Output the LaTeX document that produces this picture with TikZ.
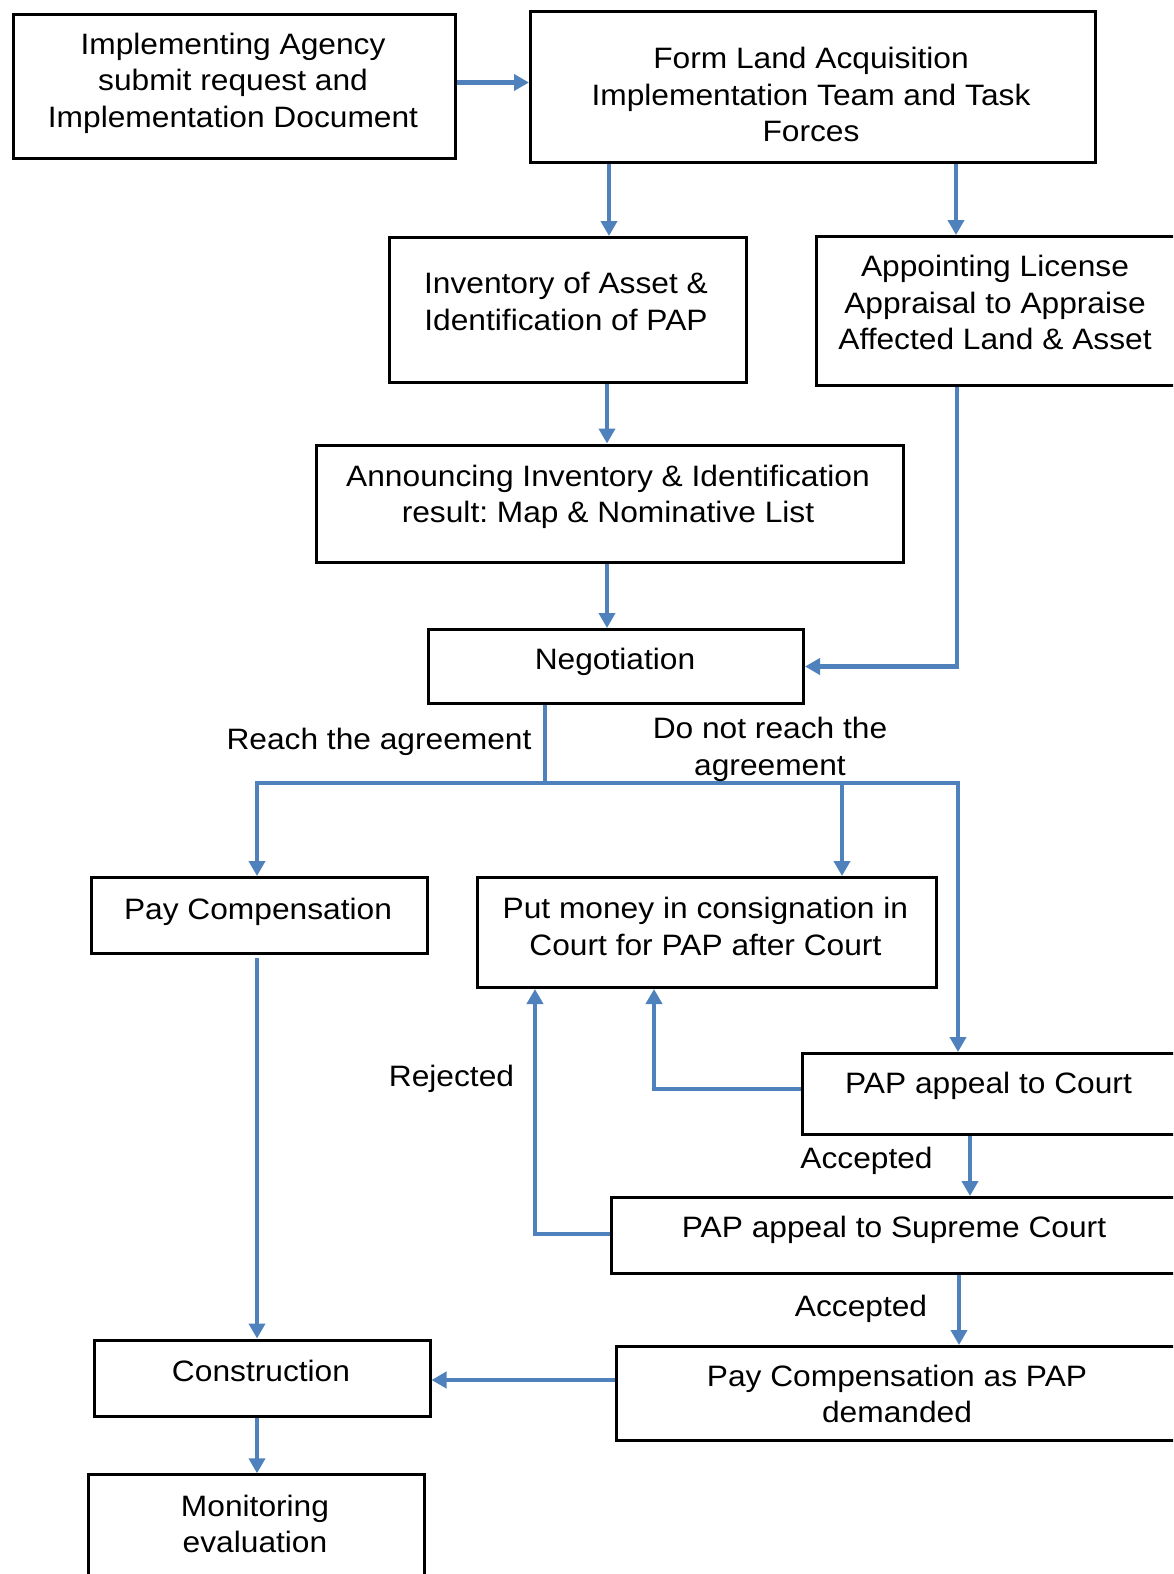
\documentclass[tikz,border=0pt]{standalone}
\usepackage{fontspec}
\setmainfont{Liberation Sans}[FakeStretch=1.075]
\usetikzlibrary{arrows.meta}
\definecolor{linkblue}{RGB}{79,129,189}
\frenchspacing
\begin{document}
\begin{tikzpicture}[x=1pt,y=-1pt,
  box/.style={draw=black, line width=3pt, anchor=north west, inner sep=0pt, fill=white},
  txt/.style={anchor=north, align=center, inner sep=0pt, yshift=24.5pt,
    font=\fontsize{29.5}{36.5}\selectfont, execute at begin node=\strut},
  txtm/.style={txt, yshift=-4pt},
  plain/.style={draw=linkblue, line width=4.8pt},
  link/.style={plain, -{Triangle[length=15pt,width=16pt]}}]

% canvas
\useasboundingbox (0,0) rectangle (1173,1574);
\fill[white] (0,0) rectangle (1173,1574);
\clip (0,0) rectangle (1173,1574);

% process boxes
\node[box, minimum width=442pt, minimum height=144pt]   (agency)    at (12,13) {};
\node[box, minimum width=565pt, minimum height=150.5pt] (team)      at (529,10) {};
\node[box, minimum width=357pt, minimum height=145pt]   (inventory) at (388,236) {};
\node[box, minimum width=380pt, minimum height=149pt]   (appraisal) at (815,235) {};
\node[box, minimum width=587pt, minimum height=117.5pt] (announce)  at (315,443.5) {};
\node[box, minimum width=375pt, minimum height=74pt]    (nego)      at (427,628) {};
\node[box, minimum width=335.5pt, minimum height=76pt]  (paycomp)   at (90,876) {};
\node[box, minimum width=459.4pt, minimum height=110pt] (consign)   at (475.6,876) {};
\node[box, minimum width=400pt, minimum height=81pt]    (court)     at (800.7,1052) {};
\node[box, minimum width=590pt, minimum height=76pt]    (supreme)   at (610,1196) {};
\node[box, minimum width=590pt, minimum height=94pt]    (demanded)  at (615,1345) {};
\node[box, minimum width=335.2pt, minimum height=76.3pt](construct) at (93.3,1338.5) {};
\node[box, minimum width=335.4pt, minimum height=130pt] (monitor)   at (87.3,1473.3) {};

% connectors
\draw[link] (agency.east |- 0,82.5) -- (team.west |- 0,82.5);
\draw[link] (team.south -| 609,0) -- (inventory.north -| 609,0);
\draw[link] (team.south -| 956,0) -- (appraisal.north -| 956,0);
\draw[link] (inventory.south -| 607,0) -- (announce.north -| 607,0);
\draw[link] (announce.south -| 607,0) -- (nego.north -| 607,0);
\draw[link] (appraisal.south -| 957,0) |- (nego.east |- 0,666.5);

\coordinate (split) at (545,783);
\coordinate (fork) at (842,783);
\draw[plain] (nego.south -| 545,0) -- (split);
\draw[link] (split) -| (paycomp.north -| 257,0);
\draw[link] (split) -| (court.north -| 958,0);
\draw[link] (fork) -- (consign.north -| 842,0);

\draw[link] (court.west |- 0,1089) -| (consign.south -| 654,0);
\draw[link] (supreme.west |- 0,1234) -| (consign.south -| 535,0);
\draw[link] (court.south -| 970,0) -- (supreme.north -| 970,0);
\draw[link] (supreme.south -| 959,0) -- (demanded.north -| 959,0);
\draw[link] (demanded.west |- 0,1380) -- (construct.east |- 0,1380);

\coordinate (pcout) at (257,958);
\draw[link] (pcout) -- (construct.north -| 257,0);
\draw[link] (construct.south -| 257,0) -- (monitor.north -| 257,0);

% box texts
\node[txtm] (tagency) at (233,53) {Implementing Agency\\submit request and\\Implementation Document};
\node[txtm] (tteam)   at (811,67.7) {Form Land Acquisition\\Implementation Team and Task\\Forces};
\node[txtm] (tinv)    at (566,292.5) {Inventory of Asset \&\\Identification of PAP};
\node[txtm] (tappr)   at (995,275.5) {Appointing License\\Appraisal to Appraise\\Affected Land \& Asset};
\node[txtm] (tann)    at (608,485) {Announcing Inventory \& Identification\\result: Map \& Nominative List};
\node[txt]  (tnego)   at (615,668.3) {Negotiation};
\node[txt]  (tpay)    at (258,918.5) {Pay Compensation};
\node[txtm] (tcons)   at (705.4,917.5) {Put money in consignation in\\Court for PAP after Court};
\node[txt]  (tcourt)  at (988.5,1092.5) {PAP appeal to Court};
\node[txt]  (tsup)    at (894,1236.5) {PAP appeal to Supreme Court};
\node[txtm] (tdem)    at (897,1385) {Pay Compensation as PAP\\demanded};
\node[txt]  (tconst)  at (261,1380) {Construction};
\node[txtm] (tmon)    at (255,1515) {Monitoring\\evaluation};

% branch labels
\node[txt]  (lreach) at (379,748) {Reach the agreement};
\node[txtm] (lnot)   at (770,737.5) {Do not reach the\\agreement};
\node[txt]  (lrej)   at (451.5,1085) {Rejected};
\node[txt]  (lacc1)  at (866.5,1167) {Accepted};
\node[txt]  (lacc2)  at (861,1315) {Accepted};
\end{tikzpicture}
\end{document}
